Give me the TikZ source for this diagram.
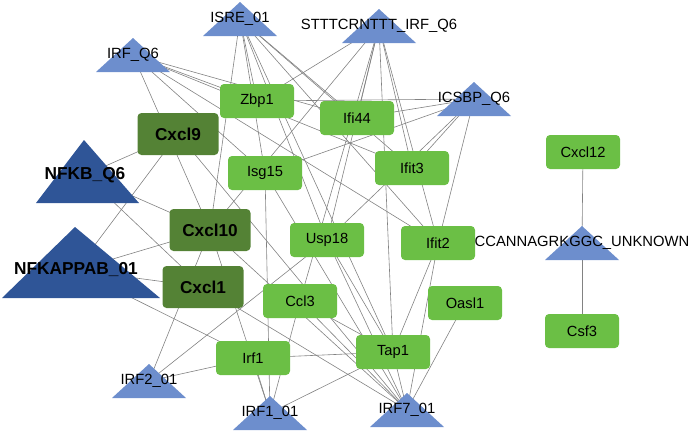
\documentclass[tikz,border=0pt]{standalone}
\usepackage{fontspec}
\setmainfont{Liberation Sans}
\usetikzlibrary{backgrounds}
\definecolor{tflight}{RGB}{109,142,205}
\definecolor{tfdark}{RGB}{47,85,151}
\definecolor{genegreen}{RGB}{107,191,69}
\definecolor{genedark}{RGB}{84,130,53}
\definecolor{edgegray}{RGB}{130,130,130}
\tikzset{
  gene/.style={fill=genegreen, rounded corners=4pt, minimum width=74pt, minimum height=34pt, inner sep=0pt, font=\fontsize{14.7}{16}\selectfont},
  hub/.style={gene, fill=genedark, minimum width=81pt, minimum height=42pt, font=\fontsize{17.2}{20}\selectfont\bfseries},
  tflabel/.style={inner sep=0pt, font=\fontsize{14.8}{16}\selectfont},
  biglabel/.style={inner sep=0pt, font=\fontsize{17.3}{20}\selectfont\bfseries},
  link/.style={draw=edgegray, line width=0.6pt}
}
\begin{document}
\begin{tikzpicture}[x=1pt,y=-1pt]
\useasboundingbox (0,0) rectangle (688,432);
% transcription factor motifs
\foreach \n/\x/\y/\t in {isre/240/19/ISRE\_01, sttt/379/26/STTTCRNTTT\_IRF\_Q6, irfq/133/55/IRF\_Q6,
  icsbp/474/99/ICSBP\_Q6, irftwo/149/381/IRF2\_01, irfone/270/413/IRF1\_01,
  irfseven/407/410/IRF7\_01, ccann/582/243/CCANNAGRKGGC\_UNKNOWN}{
\fill[tflight] (\x-37,\y+17)--(\x,\y-17)--(\x+37,\y+17)--cycle;
\node[tflabel] (\n) at (\x,\y) {\t};
}
\fill[tfdark] (36,203)--(84,140)--(139,203)--cycle;
\node[biglabel] (nfkb) at (85,175) {NFKB\_Q6};
\fill[tfdark] (2,298)--(75,227)--(160,298)--cycle;
\node[biglabel] (nfkappab) at (76,270) {NFKAPPAB\_01};
% genes
\foreach \n/\x/\y in {Zbp1/257/101, Ifi44/357/118, Isg15/265/173, Ifit3/412/168, Cxcl12/583/152,
  Usp18/327/240, Ifit2/438/243, Ccl3/300/301, Oasl1/465/303, Csf3/582/331, Irf1/253/358, Tap1/393/352}
  \node[gene] (\n) at (\x,\y) {\n};
\foreach \n/\x/\y in {Cxcl9/178/134, Cxcl10/210/230, Cxcl1/203/287}
  \node[hub] (\n) at (\x,\y) {\n};
% edges
\begin{scope}[on background layer]
\foreach \a/\b in {ccann/Cxcl12, ccann/Csf3,
  nfkb/Cxcl9, nfkb/Cxcl10, nfkb/Cxcl1,
  nfkappab/Cxcl9, nfkappab/Cxcl10, nfkappab/Cxcl1, nfkappab/Irf1,
  irftwo/Cxcl10, irftwo/Usp18, irftwo/Irf1,
  irfone/Cxcl10, irfone/Isg15, irfone/Ccl3, irfone/Irf1, irfone/Tap1,
  irfseven/Oasl1, irfseven/Ifit2, irfseven/Tap1, irfseven/Ccl3, irfseven/Cxcl10,
  irfseven/Cxcl9, irfseven/Usp18, irfseven/Cxcl1, irfseven/Isg15,
  isre/Cxcl10, isre/Zbp1, isre/Isg15, isre/Usp18, isre/Ifi44, isre/Ifit3, isre/Ifit2, isre/Tap1,
  sttt/Zbp1, sttt/Cxcl10, sttt/Ifi44, sttt/Ifit3, sttt/Ifit2, sttt/Tap1, sttt/Ccl3, sttt/Usp18,
  irfq/Cxcl10, irfq/Isg15, irfq/Zbp1, irfq/Ifi44, irfq/Ifit3, irfq/Ifit2,
  icsbp/Zbp1, icsbp/Ifi44, icsbp/Isg15, icsbp/Ifit3, icsbp/Usp18, icsbp/Ifit2,
  Irf1/Tap1, Ifit2/Tap1, Usp18/Tap1, Ccl3/Tap1}
  \draw[link] (\a.center)--(\b.center);
\end{scope}
\end{tikzpicture}
\end{document}
